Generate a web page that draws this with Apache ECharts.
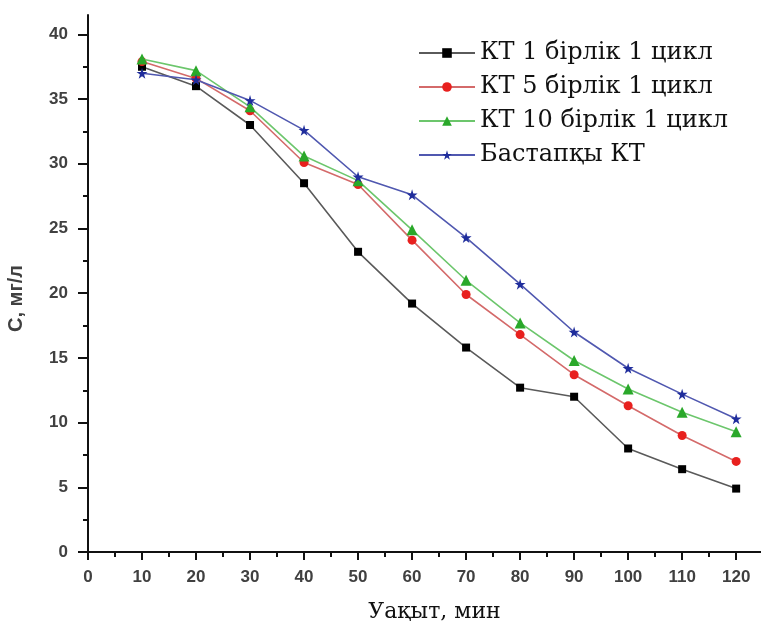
<!DOCTYPE html>
<html>
<head>
<meta charset="utf-8">
<script src="https://cdn.jsdelivr.net/npm/echarts@6/dist/echarts.min.js"></script>
<style>html,body{margin:0;padding:0;background:#fff}#c{width:761px;height:630px}</style>
</head>
<body>
<div id="c"></div>
<script>
const times = [10, 20, 30, 40, 50, 60, 70, 80, 90, 100, 110, 120];
const seriesNames = ['КТ 1 бірлік 1 цикл', 'КТ 5 бірлік 1 цикл', 'КТ 10 бірлік 1 цикл', 'Бастапқы КТ'];
const kt1 = [37.5, 36.0, 33.0, 28.5, 23.2, 19.2, 15.8, 12.7, 12.0, 8.0, 6.4, 4.9];
const kt5 = [37.9, 36.6, 34.1, 30.1, 28.4, 24.1, 19.9, 16.8, 13.7, 11.3, 9.0, 7.0];
const kt10 = [38.1, 37.2, 34.4, 30.6, 28.7, 24.9, 21.0, 17.7, 14.8, 12.6, 10.8, 9.3];
const ktBase = [37.0, 36.5, 34.9, 32.6, 29.0, 27.6, 24.3, 20.7, 17.0, 14.2, 12.2, 10.3];
const xMajor = [0, 10, 20, 30, 40, 50, 60, 70, 80, 90, 100, 110, 120];
const xMinor = [5, 15, 25, 35, 45, 55, 65, 75, 85, 95, 105, 115];
const yMajor = [0, 5, 10, 15, 20, 25, 30, 35, 40];
const yMinor = [2.5, 7.5, 12.5, 17.5, 22.5, 27.5, 32.5, 37.5];

const zip = (xs, ys) => xs.map((x, i) => [x, ys[i]]);
const lineColors = ['#5a5a5a', '#d46a6a', '#6cc66c', '#5058b0'];
const markColors = ['#000000', '#e8201e', '#2aa82a', '#1f2d9c'];
const symbols = ['rect', 'circle', 'triangle', 'path://M50,0 L61,35 L98,35 L68,57 L79,91 L50,70 L21,91 L32,57 L2,35 L39,35 Z'];
const sizes = [8, 9, 11, 11];
const datas = [kt1, kt5, kt10, ktBase];

const tickLabel = {fontFamily: 'Liberation Sans', fontWeight: 'bold', fontSize: 17, color: '#404040'};
const XMAX = 124.6, YMAX = 41.5;

const chart = echarts.init(document.getElementById('c'));
chart.setOption({
  animation: false,
  backgroundColor: '#fff',
  grid: {left: 88, right: 0, top: 15, bottom: 78, containLabel: false, outerBoundsMode: 'none'},
  legend: {
    orient: 'vertical', left: 413, top: 36, itemWidth: 56, itemHeight: 12, itemGap: 10,
    textStyle: {fontFamily: 'DejaVu Serif', fontSize: 24, color: '#111'},
    data: seriesNames
  },
  xAxis: [{
    type: 'value', min: 0, max: XMAX, interval: 10, position: 'bottom',
    splitLine: {show: false},
    axisLine: {lineStyle: {color: '#111', width: 2}},
    axisTick: {customValues: xMajor, length: 8, lineStyle: {color: '#111', width: 2}},
    axisLabel: Object.assign({customValues: xMajor, margin: 17}, tickLabel),
    name: 'Уақыт, мин', nameLocation: 'middle', nameGap: 49,
    nameTextStyle: {fontFamily: 'DejaVu Serif', fontSize: 22, color: '#111', padding: [0, 0, 0, 20]}
  }, {
    type: 'value', min: 0, max: XMAX, interval: 10, position: 'bottom',
    splitLine: {show: false}, axisLine: {show: false}, axisLabel: {show: false},
    axisTick: {customValues: xMinor, length: 5, lineStyle: {color: '#111', width: 2}}
  }],
  yAxis: [{
    type: 'value', min: 0, max: YMAX, interval: 5,
    splitLine: {show: false},
    axisLine: {show: true, lineStyle: {color: '#111', width: 2}},
    axisTick: {show: true, customValues: yMajor, length: 10, lineStyle: {color: '#111', width: 2}},
    axisLabel: Object.assign({customValues: yMajor, margin: 20}, tickLabel),
    name: 'C, мг/л', nameLocation: 'middle', nameGap: 62,
    nameTextStyle: {fontFamily: 'Liberation Sans', fontWeight: 'bold', fontSize: 20, color: '#404040', padding: [0, 30, 0, 0]}
  }, {
    type: 'value', min: 0, max: YMAX, interval: 5, position: 'left',
    splitLine: {show: false}, axisLine: {show: false}, axisLabel: {show: false},
    axisTick: {show: true, customValues: yMinor, length: 5, lineStyle: {color: '#111', width: 2}}
  }],
  series: seriesNames.map((n, i) => ({
    name: n, type: 'line', xAxisIndex: 0, yAxisIndex: 0,
    data: zip(times, datas[i]),
    symbol: symbols[i], symbolSize: sizes[i], showAllSymbol: true,
    lineStyle: {color: lineColors[i], width: 1.6},
    itemStyle: {color: markColors[i]},
    z: 2 + i
  }))
});
</script>
</body>
</html>
